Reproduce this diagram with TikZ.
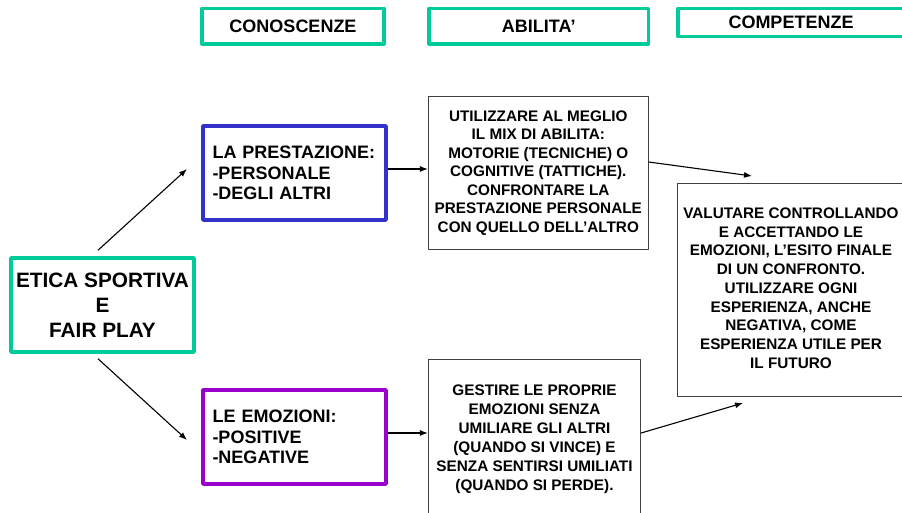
\documentclass[tikz,border=0pt]{standalone}
\usepackage{fontspec}
\setmainfont{Liberation Sans}
\usetikzlibrary{arrows.meta}
\definecolor{verde}{RGB}{0,204,153}
\definecolor{blu}{RGB}{51,51,204}
\definecolor{viola}{RGB}{153,0,204}
\definecolor{grigio}{RGB}{64,64,64}
\begin{document}
\begin{tikzpicture}[x=1pt, y=-1pt, line join=round,
	testa/.style={draw=verde, line width=3.5pt, minimum height=35.5pt, inner sep=0pt, font=\fontsize{18}{22}\selectfont\bfseries},
	conc/.style={line width=3.5pt, minimum width=183pt, minimum height=94pt, text width=164pt, align=left, inner sep=0pt, font=\fontsize{18}{20.5}\selectfont\bfseries},
	testo/.style={draw=grigio, line width=0.8pt, align=center, inner sep=0pt, font=\fontsize{15.3}{18.5}\selectfont\bfseries},
	freccia/.style={-{Latex[length=8pt,width=6pt]}, line width=1.1pt}]
				\useasboundingbox (0,0) rectangle (902,512);
				% intestazioni
				\node[testa, minimum width=182pt] (con) at (293,26) {CONOSCENZE};
				\node[testa, minimum width=219.5pt] (abi) at (538.75,26) {ABILITA’};
				\node[testa, minimum width=240pt, minimum height=28pt] (com) at (798,22.5) {COMPETENZE\kern14pt};
				% riquadri
				\node[draw=verde, line width=3.5pt, minimum width=183pt, minimum height=94pt, align=center, inner sep=0pt, font=\fontsize{20.8}{25}\selectfont\bfseries] (etica) at (102.5,305) {ETICA SPORTIVA\\E\\FAIR PLAY};
				\node[conc, draw=blu] (prest) at (294.5,173) {LA PRESTAZIONE:\\-PERSONALE\\-DEGLI ALTRI};
				\node[conc, draw=viola] (emoz) at (294.5,437) {LE EMOZIONI:\\-POSITIVE\\-NEGATIVE};
				\node[testo, minimum width=220pt, minimum height=153.3pt] (util) at (538.3,172.7) {UTILIZZARE AL MEGLIO\\IL MIX DI ABILITA:\\MOTORIE (TECNICHE) O\\COGNITIVE (TATTICHE).\\CONFRONTARE LA\\PRESTAZIONE PERSONALE\\CON QUELLO DELL’ALTRO};
				\node[testo, minimum width=212.4pt, minimum height=160.4pt, font=\fontsize{15.3}{19}\selectfont\bfseries] (gest) at (534.5,439.5) {GESTIRE LE PROPRIE\\EMOZIONI SENZA\\UMILIARE GLI ALTRI\\(QUANDO SI VINCE) E\\SENZA SENTIRSI UMILIATI\\(QUANDO SI PERDE).};
				\node[draw=grigio, line width=0.8pt, minimum width=240pt, minimum height=212.7pt, inner sep=0pt, font=\fontsize{15.3}{18.75}\selectfont\bfseries] (val) at (797.5,289.7) {\begin{tabular}{@{}c@{}}VALUTARE CONTROLLANDO\\E ACCETTANDO LE\\EMOZIONI, L’ESITO FINALE\\DI UN CONFRONTO.\\UTILIZZARE OGNI\\ESPERIENZA, ANCHE\\NEGATIVA, COME\\ESPERIENZA UTILE PER\\IL FUTURO\end{tabular}\kern13pt};
				% frecce
				\coordinate (k1) at (187,169);
				\coordinate (k2) at (187,440);
				\coordinate (v1) at (752,176);
				\coordinate (v2) at (743,403);
				\draw[freccia] ([shift={(-4.5pt,6pt)}]etica.north) -- (k1);
				\draw[freccia] ([shift={(-4.5pt,-5pt)}]etica.south) -- (k2);
				\draw[freccia] ([yshift=4pt]prest.east) -- ([yshift=4pt]prest.east -| util.west);
				\draw[freccia] ([yshift=4pt]emoz.east) -- ([yshift=4pt]emoz.east -| gest.west);
				\draw[freccia] ([yshift=10.7pt]util.east) -- (v1);
				\draw[freccia] ([yshift=6.5pt]gest.east) -- (v2);
			\end{tikzpicture}
\end{document}
